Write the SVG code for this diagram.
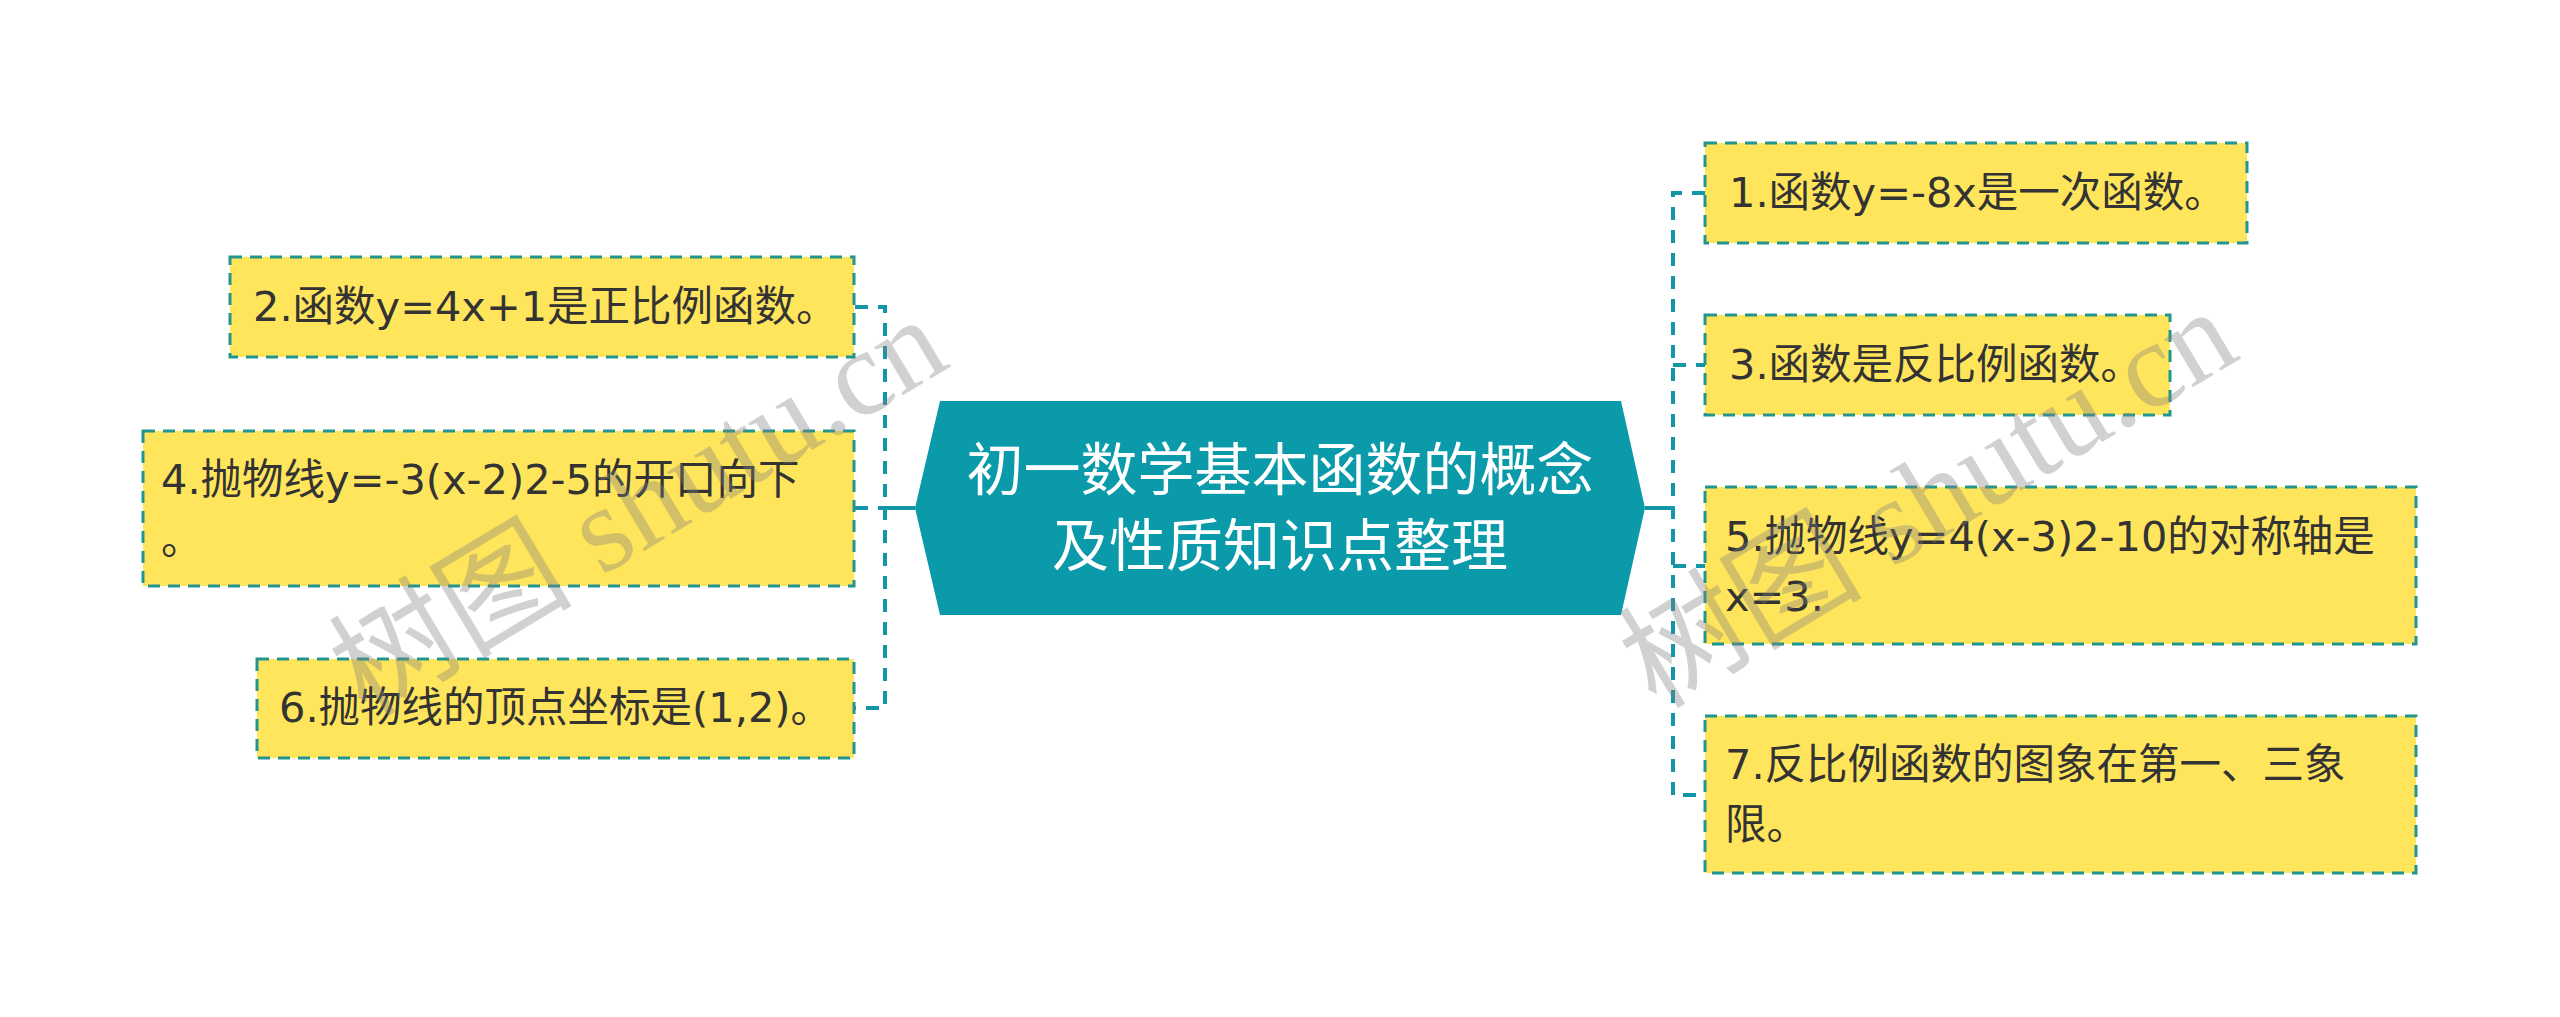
<svg xmlns="http://www.w3.org/2000/svg" width="2560" height="1017" viewBox="0 0 2560 1017">
<style>
.box{fill:#ffe55c;stroke:#23958f;stroke-width:3;stroke-dasharray:12 8;}
.t{font-family:"DejaVu Sans","Noto Sans CJK SC",sans-serif;font-size:41.5px;fill:#333333;}
.ct{font-family:"Noto Sans CJK SC","Noto Sans",sans-serif;font-size:57px;fill:#ffffff;text-anchor:middle;}
.dash{fill:none;stroke:#1296a8;stroke-width:4;stroke-dasharray:13 10;}
.solid{fill:none;stroke:#1296a8;stroke-width:4;}
.wm{font-family:"Liberation Serif","Noto Sans CJK SC",serif;font-size:122px;fill:#808080;fill-opacity:0.36;}
</style>
<rect width="2560" height="1017" fill="#ffffff"/>
<g id="connectors">
<path class="solid" d="M915 508 H885"/>
<path class="dash" d="M855 307 H885 V708 H855 M855 508 H885"/>
<path class="solid" d="M1645 508 H1673"/>
<path class="dash" d="M1705 193 H1673 V795 H1705 M1673 365 H1705 M1673 566 H1705"/>
</g>
<g id="center">
<polygon points="940,401 1621,401 1645,508 1621,615 940,615 915,508" fill="#0a9aaa"/>
<text class="ct" x="1280" y="490">初一数学基本函数的概念</text>
<text class="ct" x="1280" y="566">及性质知识点整理</text>
</g>
<g id="node2">
<rect class="box" x="230" y="257" width="624" height="100"/>
<text class="t" x="253" y="321">2.函数y=4x+1是正比例函数。</text>
</g>
<g id="node4">
<rect class="box" x="143" y="431" width="711" height="155"/>
<text class="t" x="161" y="494">4.抛物线y=-3(x-2)2-5的开口向下</text>
<text class="t" x="161" y="554">。</text>
</g>
<g id="node6">
<rect class="box" x="257" y="659" width="597" height="99"/>
<text class="t" x="279" y="722">6.抛物线的顶点坐标是(1,2)。</text>
</g>
<g id="node1">
<rect class="box" x="1705" y="143" width="542" height="100"/>
<text class="t" x="1729" y="207">1.函数y=-8x是一次函数。</text>
</g>
<g id="node3">
<rect class="box" x="1705" y="315" width="465" height="100"/>
<text class="t" x="1729" y="379">3.函数是反比例函数。</text>
</g>
<g id="node5">
<rect class="box" x="1705" y="487" width="711" height="157"/>
<text class="t" x="1725" y="551">5.抛物线y=4(x-3)2-10的对称轴是</text>
<text class="t" x="1725" y="611">x=3.</text>
</g>
<g id="node7">
<rect class="box" x="1705" y="716" width="711" height="157"/>
<text class="t" x="1725" y="779">7.反比例函数的图象在第一、三象</text>
<text class="t" x="1725" y="839">限。</text>
</g>
<g id="watermark">
<text class="wm" transform="translate(366,718) rotate(-31)">树图 shutu.cn</text>
<text class="wm" transform="translate(1656,710) rotate(-31)">树图 shutu.cn</text>
</g>
</svg>
